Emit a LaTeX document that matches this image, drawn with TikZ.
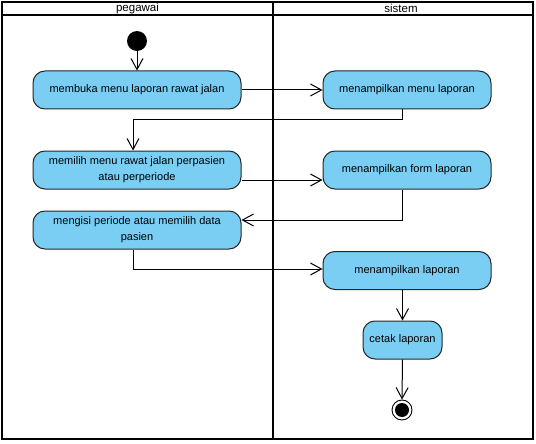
\documentclass[tikz,border=0pt]{standalone}
\usepackage{fontspec}
\setmainfont{Liberation Sans}
\usetikzlibrary{arrows.meta}
\definecolor{actfill}{RGB}{122,206,244}
\tikzset{
  act/.style={draw=black!85, line width=1pt, fill=actfill, rounded corners=12pt, align=center, font=\fontsize{11}{16}\selectfont, inner sep=0pt},
  flow/.style={draw=black, line width=1pt, -{Straight Barb[length=11pt,width=12pt]}},
  lane/.style={draw=black, line width=2pt},
  lanehead/.style={font=\fontsize{11.5}{12}\selectfont}
}
\begin{document}
\begin{tikzpicture}[x=1pt,y=-1pt]
\useasboundingbox (0,0) rectangle (536,444);
% lanes
\draw[lane] (2,2) rectangle (273,439);
\draw[lane] (273,2) rectangle (533,439);
\draw[lane] (2,15) -- (533,15);
\node[lanehead] (h1) at (137.5,8.5) {pegawai};
\node[lanehead] (h2) at (401,8.5) {sistem};
% start
\node[circle, fill=black, minimum size=20pt, inner sep=0pt] (start) at (137,41) {};
% activities
\node[act, minimum width=208pt, minimum height=38pt] (a1) at (137,90) {membuka menu laporan rawat jalan};
\node[act, minimum width=168pt, minimum height=38pt] (a2) at (407,90) {menampilkan menu laporan};
\node[act, minimum width=208pt, minimum height=38pt] (a3) at (137,170) {memilih menu rawat jalan perpasien\\atau perperiode};
\node[act, minimum width=168pt, minimum height=38pt] (a4) at (407,170) {menampilkan form laporan};
\node[act, minimum width=208pt, minimum height=38pt] (a5) at (137,230) {mengisi periode atau memilih data\\pasien};
\node[act, minimum width=168pt, minimum height=38pt] (a6) at (407,270.5) {menampilkan laporan};
\node[act, minimum width=79pt, minimum height=38pt] (a7) at (402.5,340) {cetak laporan};
% end
\node[circle, draw=black, line width=0.9pt, fill=white, minimum size=20pt, inner sep=0pt] (end) at (402,410) {};
\node[circle, fill=black, minimum size=14pt, inner sep=0pt] (endin) at (end) {};
% connectors
\coordinate (c1) at (402,120);
\coordinate (c2) at (133,120);
\coordinate (c3) at (402,220);
\coordinate (c4) at (133,269);
\draw[flow] (start) -- (start.center |- a1.north);
\draw[flow] (a1.east) -- (a2.west);
\draw[flow] (c1 |- a2.south) -- (c1) -- (c2) -- (c2 |- a3.north);
\draw[flow] (a3.east |- 0,180) -- (a4.west |- 0,180);
\draw[flow] (c3 |- a4.south) -- (c3) -- (a5.east |- c3);
\draw[flow] (c4 |- a5.south) -- (c4) -- (a6.west |- c4);
\draw[flow] (a6.south -| a7.north) -- (a7.north);
\draw[flow] (a7.south) -- (end.north);
\end{tikzpicture}
\end{document}
